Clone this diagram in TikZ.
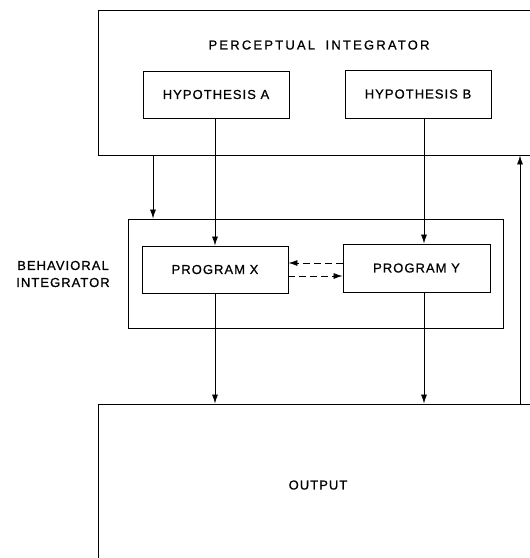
\documentclass[tikz,border=0pt]{standalone}
\usepackage{fontspec}
\setmainfont{Liberation Sans}[LetterSpace=8,FakeBold=0.7]
\newfontfamily\titlefont{Liberation Sans}[LetterSpace=17,WordSpace=1.8,FakeBold=0.7]
\usetikzlibrary{arrows.meta}
\begin{document}
\begin{tikzpicture}[x=1pt,y=-1pt,
  box/.style={draw,line width=0.9pt,inner sep=0pt,rectangle},
  lbl/.style={inner sep=0pt,font=\fontsize{13}{17}\selectfont},
  conn/.style={line width=0.8pt,-{Latex[length=9pt,width=6pt]}},
  dconn/.style={conn,dash pattern=on 7pt off 4pt}]
\useasboundingbox (0,0) rectangle (530,558);
\clip (0,0) rectangle (530,558);
% boxes
\node[box,minimum width=442pt,minimum height=145pt] (perc) at (319,82.5) {};
\node[lbl,font=\fontsize{13}{17}\selectfont\titlefont] (perct) at (319,45) {PERCEPTUAL INTEGRATOR};
\node[box,lbl,minimum width=146pt,minimum height=47pt] (hypA) at (216,94.5) {HYPOTHESIS A};
\node[box,lbl,minimum width=146pt,minimum height=48pt] (hypB) at (418,94) {HYPOTHESIS B};
\node[box,minimum width=375pt,minimum height=109pt] (behav) at (315.5,273.5) {};
\node[lbl,align=center] (behavt) at (63,274) {BEHAVIORAL\\INTEGRATOR};
\node[box,lbl,minimum width=146pt,minimum height=47pt] (progX) at (215,269.5) {PROGRAM X};
\node[box,lbl,minimum width=147pt,minimum height=48pt] (progY) at (416.5,268) {PROGRAM Y};
\node[box,minimum width=442pt,minimum height=196pt] (out) at (319,502) {};
\node[lbl] (outt) at (318,485) {OUTPUT};
% helper coordinates
\coordinate (cl) at (153,0);
\coordinate (ca) at (215,0);
\coordinate (cb) at (424,0);
\coordinate (cr) at (520,0);
\coordinate (yu) at (0,263);
\coordinate (yd) at (0,276);
% connectors
\draw[conn] (perc.south -| cl) -- (behav.north -| cl);
\draw[conn] (hypA.south -| ca) -- (progX.north -| ca);
\draw[conn] (hypB.south -| cb) -- (progY.north -| cb);
\draw[conn] (progX.south -| ca) -- (out.north -| ca);
\draw[conn] (progY.south -| cb) -- (out.north -| cb);
\draw[conn] (out.north -| cr) -- (perc.south -| cr);
\draw[dconn] (progY.west |- yu) -- (progX.east |- yu);
\draw[dconn] (progX.east |- yd) -- (progY.west |- yd);
\end{tikzpicture}
\end{document}
